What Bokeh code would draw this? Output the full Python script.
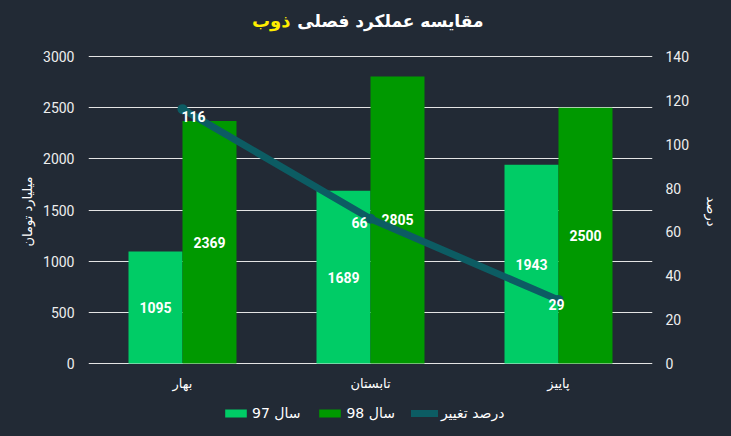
from bokeh.plotting import figure
from bokeh.models import (Range1d, FactorRange, LinearAxis, FixedTicker, ColumnDataSource,
                          Legend, LegendItem, Label)
from bokeh.transform import dodge
from bokeh.core.properties import value
from bokeh.embed import file_html
from bokeh.resources import INLINE

# ---- data ----
seasons = ["بهار", "تابستان", "پاییز"]
sales_97 = [1095, 1689, 1943]
sales_98 = [2369, 2805, 2500]
change_pct = [116, 66, 29]
left_ticks = [0, 500, 1000, 1500, 2000, 2500, 3000]
right_ticks = [0, 20, 40, 60, 80, 100, 120, 140]

# ---- styles ----
BG = "#222a35"
G97 = "#00cc66"
G98 = "#009900"
TEAL = "#0c5c63"
FA = "DejaVu Sans"
NUM = "Roboto"

# layout (pixels): value axis spans 307 px; frame extends above / below it
AX_PX = 307.0
ABOVE_PX = 363.0   # from zero line up to top of frame
BELOW_PX = 59.0    # from zero line down to bottom of frame
LMAX, RMAX = left_ticks[-1], right_ticks[-1]

src = ColumnDataSource(dict(
    season=seasons,
    s97=sales_97, s98=sales_98,
    m97=[v / 2 for v in sales_97], m98=[v / 2 for v in sales_98],
    t97=[str(v) for v in sales_97], t98=[str(v) for v in sales_98],
    pct=change_pct, tpct=[str(v) for v in change_pct],
    dx=[11, -11, -2], dy=[7, 4, 5],
    zero=[0, 0, 0],
))

p = figure(x_range=FactorRange(factors=seasons, range_padding=0),
           y_range=Range1d(-BELOW_PX * LMAX / AX_PX, ABOVE_PX * LMAX / AX_PX),
           width=731, height=436, output_backend="svg", toolbar_location=None,
           min_border_left=88, min_border_right=79, min_border_top=0, min_border_bottom=14,
           background_fill_color=None, border_fill_color=None, outline_line_color=None)
p.extra_y_ranges = {"pct": Range1d(-BELOW_PX * RMAX / AX_PX, ABOVE_PX * RMAX / AX_PX)}

BW = 0.2872
r97 = p.vbar(x=dodge("season", -BW / 2, range=p.x_range), top="s97", width=BW,
             source=src, fill_color=G97, line_color=None)
r98 = p.vbar(x=dodge("season", BW / 2, range=p.x_range), top="s98", width=BW,
             source=src, fill_color=G98, line_color=None)

for key, off in (("97", -BW / 2), ("98", BW / 2)):
    p.text(x=dodge("season", off, range=p.x_range), y="m" + key, text="t" + key, source=src,
           text_align="center", text_baseline="middle", text_color="#ffffff",
           text_font=value(NUM), text_font_style="bold", text_font_size="14px")

rl = p.line(x="season", y="pct", y_range_name="pct", source=src,
            line_color=TEAL, line_width=7, line_join="round", line_cap="round")
p.scatter(x="season", y="pct", y_range_name="pct", source=src, size=10,
          fill_color=TEAL, line_color=None)
p.text(x="season", y="pct", y_range_name="pct", text="tpct", source=src,
       x_offset="dx", y_offset="dy",
       text_align="center", text_baseline="middle", text_color="#ffffff",
       text_font=value(NUM), text_font_style="bold", text_font_size="14px")

# category labels under the zero line
p.text(x="season", y="zero", text="season", source=src, y_offset=20,
       text_align="center", text_baseline="middle", text_color="#ffffff",
       text_font=value(FA), text_font_size="13px")

# axes
p.xaxis.visible = False
p.xgrid.grid_line_color = None
p.ygrid.grid_line_color = "#e4e4e4"
p.ygrid.grid_line_width = 1
p.ygrid.ticker = FixedTicker(ticks=left_ticks)
p.yaxis.ticker = FixedTicker(ticks=left_ticks)

for ax in p.yaxis:
    ax.axis_line_color = None
    ax.major_tick_line_color = None
    ax.minor_tick_line_color = None
    ax.major_tick_out = 0
    ax.major_tick_in = 0
    ax.major_label_text_color = "#eeeeee"

p.yaxis.major_label_text_font = NUM
p.yaxis.major_label_text_font_size = "14px"
p.yaxis.major_label_standoff = 14
p.yaxis.axis_label = "میلیارد تومان"
p.yaxis.axis_label_text_font = FA
p.yaxis.axis_label_text_font_style = "normal"
p.yaxis.axis_label_text_font_size = "13px"
p.yaxis.axis_label_text_color = "#ffffff"
p.yaxis.axis_label_standoff = 5

ra = LinearAxis(y_range_name="pct", ticker=FixedTicker(ticks=right_ticks),
                axis_label="درصد", axis_label_text_font=FA, axis_label_text_font_style="normal",
                axis_label_text_font_size="13px", axis_label_text_color="#ffffff",
                axis_label_standoff=12,
                axis_line_color=None, major_tick_line_color=None, minor_tick_line_color=None,
                major_tick_out=0, major_tick_in=0, major_label_standoff=13,
                major_label_text_font=NUM, major_label_text_font_size="14px",
                major_label_text_color="#eeeeee")
p.add_layout(ra, "right")

legend = Legend(items=[LegendItem(label="97 سال", renderers=[r97]),
                       LegendItem(label="98 سال", renderers=[r98]),
                       LegendItem(label="درصد تغییر", renderers=[rl])],
                orientation="horizontal", location=(134, 1),
                background_fill_alpha=0, border_line_alpha=0,
                label_text_color="#ffffff", label_text_font=FA, label_text_font_size="14px",
                glyph_width=27, glyph_height=10, spacing=16, label_standoff=3,
                padding=0, margin=0)
p.add_layout(legend, "center")

# title (two colours)
p.add_layout(Label(x=202, y=402, x_units="screen", y_units="screen", text="ذوب",
                   text_align="right", text_baseline="middle", text_color="#ffee00",
                   text_font=FA, text_font_style="bold", text_font_size="18px"))
p.add_layout(Label(x=395, y=402, x_units="screen", y_units="screen", text="مقایسه عملکرد فصلی",
                   text_align="right", text_baseline="middle", text_color="#ffffff",
                   text_font=FA, text_font_style="bold", text_font_size="17px"))

html = file_html(p, INLINE)
css = "<style>html, body { background-color: %s !important; }</style>" % BG
html = html.replace("</head>", css + "\n</head>", 1)
open("out.html", "w").write(html)
